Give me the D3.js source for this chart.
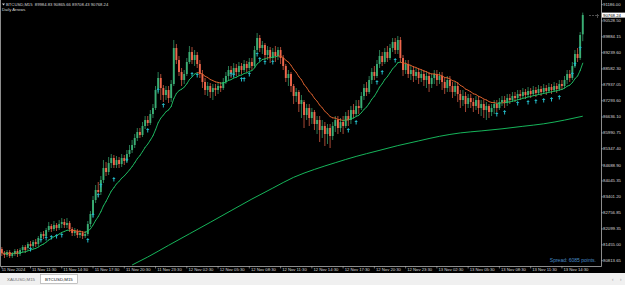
<!DOCTYPE html>
<html><head><meta charset="utf-8">
<script src="https://cdn.jsdelivr.net/npm/d3@7"></script>
<style>html,body{margin:0;padding:0;background:#000;overflow:hidden}svg{display:block}</style>
</head><body>
<svg id="c" width="625" height="285"></svg>
<script>
const priceLabels=[91186.00,90528.50,89884.15,89239.60,88582.30,87937.05,87293.60,86636.10,85990.75,85347.40,84688.90,84045.35,83401.20,82756.85,82099.35,81455.00,80813.65];
const timeLabels=["11 Nov 2024","11 Nov 11:30","11 Nov 14:30","11 Nov 17:30","11 Nov 20:30","11 Nov 23:30","12 Nov 02:30","12 Nov 05:30","12 Nov 08:30","12 Nov 11:30","12 Nov 14:30","12 Nov 17:30","12 Nov 20:30","12 Nov 23:30","13 Nov 02:30","13 Nov 05:30","13 Nov 08:30","13 Nov 11:30","13 Nov 14:30"];
const timeLabelBars=[0,11,23,35,47,59,71,83,95,107,119,131,143,155,167,179,191,203,215];

const opens=[81287,81125,81044,81165,81003,81084,81206,81084,81246,81368,
81327,81489,81408,81570,81489,81733,81895,81814,82057,82219,
82097,82259,82138,82300,82381,82259,82340,82097,81935,82016,
81854,81935,81814,81895,82300,82705,83272,83678,83597,84083,
84569,84407,84771,84974,84690,84893,84731,84974,84853,85136,
85298,85501,85785,86028,85906,86271,86514,86393,86757,87000,
87730,88216,87810,87527,87730,87405,87973,89431,88945,88459,
88135,88378,88864,89269,88945,89148,88783,88378,88054,87730,
87892,87649,87810,87730,87892,87810,88054,88297,88540,88378,
88621,88459,88702,88540,88783,88621,88864,88702,89350,89837,
89431,89553,89148,89350,89026,89269,89107,89350,89026,88702,
88216,88378,87892,87487,87649,87162,87243,86717,87000,86595,
86838,86352,86514,86109,86271,85947,86190,85866,86271,86514,
86190,86433,86271,86676,86514,86919,86757,87081,87000,87487,
87810,87649,88135,88459,88297,88783,89107,88864,89269,89026,
89431,89675,89350,89756,89026,88540,88783,88378,88540,88297,
88459,88216,88378,88135,88297,87973,88216,88378,88135,88297,
88054,87810,88135,87892,87649,87892,87568,87324,87487,87162,
87405,87243,87081,87324,87000,87162,86919,87081,86838,87000,
87162,87000,87243,87324,87203,87405,87324,87487,87405,87568,
87487,87649,87527,87689,87568,87730,87608,87770,87649,87810,
87689,87851,87730,87892,87770,87973,87892,88135,88378,88216,
88702,89188,89026,89984.83];
const highs=[81368,81206,81246,81246,81165,81287,81287,81327,81449,81449,
81570,81611,81652,81692,81814,81976,82016,82138,82381,82300,
82421,82340,82462,82543,82502,82543,82421,82178,82138,82097,
82057,82016,82016,82421,82826,83435,83880,84002,84245,84893,
84812,85015,85136,85096,85055,85015,85136,85096,85298,85501,
85704,85947,86190,86190,86433,86676,86676,86919,87162,87892,
88459,88378,87932,87892,87892,88135,89756,89594,89107,88621,
88540,89026,89513,89472,89350,89269,88945,88540,88216,88054,
88013,87973,87973,88054,88054,88216,88459,88702,88702,88823,
88783,88864,88823,88945,88904,89026,89026,89513,90039,89958,
89715,89634,89513,89472,89431,89513,89472,89472,89148,88783,
88540,88459,87973,87810,87730,87527,87324,87162,87162,87000,
86919,86676,86676,86514,86433,86352,86352,86433,86676,86676,
86595,86676,86838,86919,87081,87162,87324,87324,87649,87973,
88054,88297,88621,88702,88945,89350,89269,89431,89513,89594,
89837,89837,89918,89877,89148,88945,88945,88702,88702,88621,
88621,88540,88540,88459,88459,88378,88540,88540,88459,88459,
88216,88297,88297,88054,88054,88054,87730,87730,87649,87568,
87568,87405,87487,87487,87324,87324,87243,87162,87162,87324,
87324,87405,87487,87487,87568,87568,87649,87649,87730,87730,
87810,87770,87851,87810,87892,87851,87932,87892,87973,87932,
88013,87973,88054,88013,88135,88135,88297,88540,88540,88864,
89350,89431,90080,90865.66];
const lows=[81003,80922,80963,80922,80922,81003,80963,81003,81165,81125,
81246,81287,81327,81368,81408,81611,81692,81733,81976,81976,
82016,82016,82057,82138,82138,82138,81976,81814,81814,81733,
81733,81692,81733,81814,82178,82584,83151,83394,83475,83961,
84245,84285,84569,84569,84569,84569,84609,84690,84771,85015,
85177,85379,85663,85785,85825,86149,86271,86311,86595,86919,
87568,87324,87243,87324,87203,87243,87892,88783,88297,87892,
87973,88297,88783,88783,88702,88621,88216,87810,87527,87487,
87405,87324,87487,87568,87649,87730,87973,88135,88216,88256,
88297,88337,88378,88459,88459,88540,88540,88621,89269,89269,
89188,88945,88945,88823,88864,88864,88945,88783,88540,88054,
87892,87649,87162,87243,86838,86595,86190,86514,86271,86352,
86109,85947,85622,85785,85460,85541,85379,85704,86028,85947,
86028,85947,86190,86271,86352,86595,86676,86757,86919,87324,
87487,87568,87973,88135,88216,88621,88702,88783,88864,88945,
89269,89188,89188,88864,88297,88378,88216,88135,88054,88135,
87973,88054,87892,87810,87649,87810,87973,87892,87973,87730,
87568,87649,87649,87405,87487,87243,87000,87081,86838,87000,
87000,86838,86919,86757,86676,86595,86514,86595,86676,86757,
86838,86919,87081,87000,87081,87162,87243,87243,87324,87324,
87405,87365,87446,87405,87487,87446,87527,87487,87568,87527,
87608,87568,87649,87608,87689,87730,87810,87973,88054,88135,
88621,88864,88945,89708.43];
const closes=[81125,81044,81165,81003,81084,81206,81084,81246,81368,81246,
81489,81408,81570,81489,81733,81895,81814,82057,82219,82097,
82259,82138,82300,82381,82259,82340,82097,81935,82016,81854,
81935,81814,81895,82300,82705,83272,83678,83597,84083,84569,
84407,84771,84974,84690,84893,84731,84974,84853,85136,85298,
85501,85785,86028,85906,86271,86514,86393,86757,87000,87730,
88216,87810,87527,87730,87405,87973,89431,88945,88459,88135,
88378,88864,89269,88945,89148,88783,88378,88054,87730,87892,
87649,87810,87730,87892,87810,88054,88297,88540,88378,88621,
88459,88702,88540,88783,88621,88864,88702,89350,89837,89431,
89553,89148,89350,89026,89269,89107,89350,89026,88702,88216,
88378,87892,87487,87649,87162,87324,86717,87000,86595,86838,
86352,86514,86109,86271,85947,86190,85866,86271,86514,86190,
86433,86271,86676,86514,86919,86757,87081,87000,87487,87810,
87649,88135,88459,88297,88783,89107,88864,89269,89026,89431,
89675,89350,89756,89026,88540,88783,88378,88540,88297,88459,
88216,88378,88135,88297,87973,88216,88378,88135,88297,88054,
87810,88135,87892,87649,87892,87568,87324,87487,87162,87405,
87243,87081,87324,87000,87162,86919,87081,86838,87000,87162,
87000,87243,87324,87203,87405,87324,87487,87405,87568,87487,
87649,87527,87689,87568,87730,87608,87770,87649,87810,87689,
87851,87730,87892,87770,87973,87892,88135,88378,88216,88702,
89188,89026,89958,90768.24];

// long moving average, bar index -> value
const slowMABars=[50,56,64,72,80,88,96,104,112,120,128,136,144,152,160,168,176,184,192,200,208,216,223];
const slowMAValues=[80639,80963,81437,81903,82369,82843,83313,83755,84192,84512,84784,85039,85258,85477,85667,85854,85991,86072,86157,86259,86360,86510,86668];

// Daily Arrows signals: bar index and price
const arrowBars=[11,15,17,19,21,23,33,35,37,38,43,48,56,60,62,73,75,88,89,92,93,95,98,99,101,104,133,136,144,146,151,190,193,198,202,205,208,211,214,219,220,222];
const arrowPrices=[81368,81733,81814,81854,81895,81935,81733,82745,83556,83961,84204,84974,86190,87810,87203,88459,88418,88459,88418,88256,88256,88459,89269,89066,88945,88945,86190,86514,88135,88540,89026,86838,86919,87284,87324,87365,87405,87446,87527,88459,88864,89513];

const maPeriod=14;
const lastPrice=90768.24;
const headerText="BTCUSD,M15  89984.83 90865.66 89708.43 90768.24";
const indicatorName="Daily Arrows";
const spreadText="Spread: 6085 points.";
const tabs=["XAUUSD,M15","BTCUSD,M15"];

const svg=d3.select("#c");
const W=625,H=285,plotR=601,plotB=266;
const n=closes.length;
const x=d3.scaleLinear().domain([0,n-1]).range([1.85,1.85+2.605*(n-1)]);
const y=d3.scaleLinear().domain([80813.65,91186]).range([260.7,4.7]);
const font="Liberation Sans, Arial, sans-serif";
const bull="#3aae74",bear="#f0674c";

svg.append("rect").attr("width",W).attr("height",H).attr("fill","#000");
svg.append("defs").append("clipPath").attr("id","plot").append("rect").attr("x",1).attr("y",0).attr("width",plotR-1).attr("height",plotB);
const g=svg.append("g").attr("clip-path","url(#plot)");

// slow MA
g.append("path").datum(slowMABars.map((b,i)=>[b,slowMAValues[i]]))
 .attr("d",d3.line().x(d=>x(d[0])).y(d=>y(d[1])).curve(d3.curveMonotoneX))
 .attr("fill","none").attr("stroke","#19c864").attr("stroke-width",0.9);

// candles
const bars=d3.range(n).map(i=>({i,o:opens[i],h:highs[i],l:lows[i],c:closes[i]}));
const cg=g.append("g");
cg.selectAll("line.w").data(bars).join("line").attr("class","w")
 .attr("x1",d=>x(d.i)).attr("x2",d=>x(d.i)).attr("y1",d=>y(d.h)).attr("y2",d=>y(d.l))
 .attr("stroke",d=>d.c>=d.o?bull:bear).attr("stroke-width",0.7);
cg.selectAll("rect.b").data(bars).join("rect").attr("class","b")
 .attr("x",d=>x(d.i)-0.95).attr("width",1.9)
 .attr("y",d=>y(Math.max(d.o,d.c))).attr("height",d=>Math.max(0.6,Math.abs(y(d.o)-y(d.c))))
 .attr("fill",d=>d.c>=d.o?bull:bear);

// fast MA (EMA of closes), coloured by direction
const ema=[];closes.forEach((c,i)=>{ema.push(i===0?c:ema[i-1]+(2/(maPeriod+1))*(c-ema[i-1]));});
const segs=d3.range(1,n).map(i=>({a:i-1,b:i,up:ema[i]>=ema[i-1]}));
g.selectAll("line.ma").data(segs).join("line").attr("class","ma")
 .attr("x1",d=>x(d.a)).attr("x2",d=>x(d.b)).attr("y1",d=>y(ema[d.a])).attr("y2",d=>y(ema[d.b]))
 .attr("stroke",d=>d.up?"#1fc266":"#e0622e").attr("stroke-width",0.9).attr("stroke-linecap","round");

// arrows
g.selectAll("path.arr").data(arrowBars.map((b,i)=>[b,arrowPrices[i]])).join("path").attr("class","arr")
 .attr("transform",d=>`translate(${x(d[0])},${y(d[1])})`)
 .attr("d","M0,0 L1.7,2 L0.5,2 L0.5,4.6 L-0.5,4.6 L-0.5,2 L-1.7,2 Z").attr("fill","#22b8c4");

// bid marker near last price
svg.append("line").attr("x1",589).attr("x2",599).attr("y1",y(lastPrice)+0.5).attr("y2",y(lastPrice)+0.5).attr("stroke","#808080").attr("stroke-width",0.6).attr("stroke-dasharray","2,1");
svg.append("line").attr("x1",597.5).attr("x2",597.5).attr("y1",y(lastPrice)-1).attr("y2",y(lastPrice)+3).attr("stroke","#808080").attr("stroke-width",0.6);

// tab bar
svg.append("rect").attr("x",0).attr("y",273).attr("width",W).attr("height",12).attr("fill","#f0f0f0");
svg.append("rect").attr("x",40.5).attr("y",274.5).attr("width",37).attr("height",9).attr("fill","#fff").attr("stroke","#a0a0a0").attr("stroke-width",0.6);
svg.selectAll("text.tab").data(tabs).join("text").attr("class","tab")
 .attr("x",(d,i)=>i===0?7:45).attr("y",280.8).attr("font-family",font).attr("font-size",4.4)
 .attr("fill",(d,i)=>i===0?"#707070":"#202020").text(d=>d);
svg.append("text").attr("x",612).attr("y",280.5).attr("font-family",font).attr("font-size",4.5).attr("fill","#909090").text("‹");
svg.append("text").attr("x",620).attr("y",280.5).attr("font-family",font).attr("font-size",4.5).attr("fill","#909090").text("›");

// frame
svg.append("path").attr("d",`M0.5,0 V${plotB}.5 H${plotR}.5 V0`).attr("fill","none").attr("stroke","#b0b0b0").attr("stroke-width",0.8);

// right axis
const ya=svg.append("g");
priceLabels.forEach(v=>{
  const yy=y(v);
  ya.append("line").attr("x1",plotR).attr("x2",plotR+2).attr("y1",yy).attr("y2",yy).attr("stroke","#b0b0b0").attr("stroke-width",0.6);
  ya.append("text").attr("x",603).attr("y",yy+1.5).attr("font-family",font).attr("font-size",4.3).attr("fill","#d8d8d8").text(v.toFixed(2));
});
// bottom axis
const xa=svg.append("g");
timeLabels.forEach((t,i)=>{
  const xx=x(timeLabelBars[i]);
  xa.append("line").attr("x1",xx).attr("x2",xx).attr("y1",plotB).attr("y2",plotB+2.5).attr("stroke","#b0b0b0").attr("stroke-width",0.6);
  xa.append("text").attr("x",i===0?xx:xx+1.6).attr("y",271.3).attr("font-family",font).attr("font-size",4.2).attr("fill","#d8d8d8").text(t);
});
// current price label
svg.append("rect").attr("x",602).attr("y",y(lastPrice)-2.4).attr("width",23).attr("height",5).attr("fill","#fff");
svg.append("text").attr("x",603).attr("y",y(lastPrice)+1.5).attr("font-family",font).attr("font-size",4.3).attr("fill","#000").text(lastPrice.toFixed(2));

// header
svg.append("path").attr("d","M2,3.6 h3 l-1.5,2 z").attr("fill","#d0d0d0");
svg.append("text").attr("x",6).attr("y",6.4).attr("font-family",font).attr("font-size",4.2).attr("fill","#d8d8d8").attr("xml:space","preserve").text(headerText);
svg.append("text").attr("x",2).attr("y",11).attr("font-family",font).attr("font-size",4.2).attr("fill","#d8d8d8").text(indicatorName);
// spread
svg.append("text").attr("x",596).attr("y",261.8).attr("text-anchor","end").attr("font-family",font).attr("font-size",5).attr("fill","#4a8cc8").text(spreadText);
</script>
</body></html>
